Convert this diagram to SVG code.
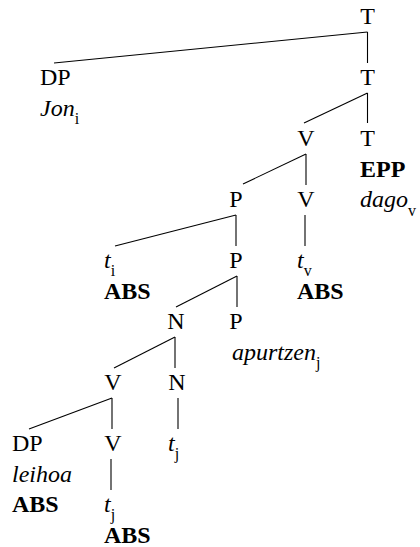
<svg xmlns="http://www.w3.org/2000/svg" width="420" height="547" viewBox="0 0 420 547">
<style>
.c{text-anchor:middle}
.i{font-style:italic}
.b{font-weight:bold}
.s{font-size:16px;font-style:normal}
.e line{stroke:#000;stroke-width:1.1}
</style>
<rect width="420" height="547" fill="#fff"/>
<g class="e" id="edges">
<line x1="367.5" y1="32" x2="367.5" y2="63"/>
<line x1="367.5" y1="32" x2="54" y2="63"/>
<line x1="367.5" y1="93" x2="304" y2="123"/>
<line x1="367.5" y1="93" x2="367.5" y2="123"/>
<line x1="306" y1="154" x2="243" y2="184"/>
<line x1="306" y1="154" x2="306" y2="185"/>
<line x1="236" y1="215" x2="115" y2="246"/>
<line x1="236" y1="215" x2="236" y2="246"/>
<line x1="305" y1="215" x2="305" y2="246"/>
<line x1="237" y1="276" x2="176" y2="307"/>
<line x1="237" y1="276" x2="237" y2="307"/>
<line x1="175" y1="337" x2="114" y2="368"/>
<line x1="175" y1="337" x2="175" y2="368"/>
<line x1="112" y1="398" x2="29" y2="429"/>
<line x1="112" y1="398" x2="112" y2="429"/>
<line x1="178" y1="398" x2="178" y2="429"/>
<line x1="111" y1="459" x2="111" y2="490"/>
</g>
<g id="n_T1"><text class="c" style="font-family:'Liberation Serif'" font-size="24" x="367.5" y="24">T</text></g>
<g id="n_T2"><text class="c" style="font-family:'Liberation Serif'" font-size="24" x="367.5" y="85">T</text></g>
<g id="n_DP1"><text style="font-family:'Liberation Serif'" font-size="24" x="40" y="85">DP</text><text class="i" style="font-family:'Liberation Serif'" font-size="24" x="40" y="116">Jon<tspan class="s" dy="8">i</tspan></text></g>
<g id="n_V1"><text class="c" style="font-family:'Liberation Serif'" font-size="24" x="306" y="146">V</text></g>
<g id="n_T3"><text class="c" style="font-family:'Liberation Serif'" font-size="24" x="367.5" y="146">T</text><text class="b" style="font-family:'Liberation Serif'" font-size="24" x="360" y="177">EPP</text><text class="i" style="font-family:'Liberation Serif'" font-size="24" x="360" y="207">dago<tspan class="s" dy="9">v</tspan></text></g>
<g id="n_P1"><text class="c" style="font-family:'Liberation Serif'" font-size="24" x="236" y="207">P</text></g>
<g id="n_V2"><text class="c" style="font-family:'Liberation Serif'" font-size="24" x="306" y="207">V</text></g>
<g id="n_ti"><text class="i" style="font-family:'Liberation Serif'" font-size="24" x="104" y="268">t<tspan class="s" dy="8">i</tspan></text><text class="b" style="font-family:'Liberation Serif'" font-size="24" x="104" y="299">ABS</text></g>
<g id="n_P2"><text class="c" style="font-family:'Liberation Serif'" font-size="24" x="236" y="268">P</text></g>
<g id="n_tv"><text class="i" style="font-family:'Liberation Serif'" font-size="24" x="297" y="268">t<tspan class="s" dy="8">v</tspan></text><text class="b" style="font-family:'Liberation Serif'" font-size="24" x="297" y="299">ABS</text></g>
<g id="n_N1"><text class="c" style="font-family:'Liberation Serif'" font-size="24" x="176" y="329">N</text></g>
<g id="n_P3"><text class="c" style="font-family:'Liberation Serif'" font-size="24" x="236" y="329">P</text><text class="i" style="font-family:'Liberation Serif'" font-size="24" x="232" y="360">apurtzen<tspan class="s" dy="8">j</tspan></text></g>
<g id="n_V3"><text class="c" style="font-family:'Liberation Serif'" font-size="24" x="113" y="390">V</text></g>
<g id="n_N2"><text class="c" style="font-family:'Liberation Serif'" font-size="24" x="177" y="390">N</text></g>
<g id="n_DP2"><text style="font-family:'Liberation Serif'" font-size="24" x="12" y="451">DP</text><text class="i" style="font-family:'Liberation Serif'" font-size="24" x="12" y="482">leihoa</text><text class="b" style="font-family:'Liberation Serif'" font-size="24" x="12" y="512">ABS</text></g>
<g id="n_V4"><text class="c" style="font-family:'Liberation Serif'" font-size="24" x="113" y="451">V</text></g>
<g id="n_tj1"><text class="i" style="font-family:'Liberation Serif'" font-size="24" x="168" y="451">t<tspan class="s" dy="8">j</tspan></text></g>
<g id="n_tj2"><text class="i" style="font-family:'Liberation Serif'" font-size="24" x="104" y="512">t<tspan class="s" dy="8">j</tspan></text><text class="b" style="font-family:'Liberation Serif'" font-size="24" x="104" y="543">ABS</text></g>
</svg>
